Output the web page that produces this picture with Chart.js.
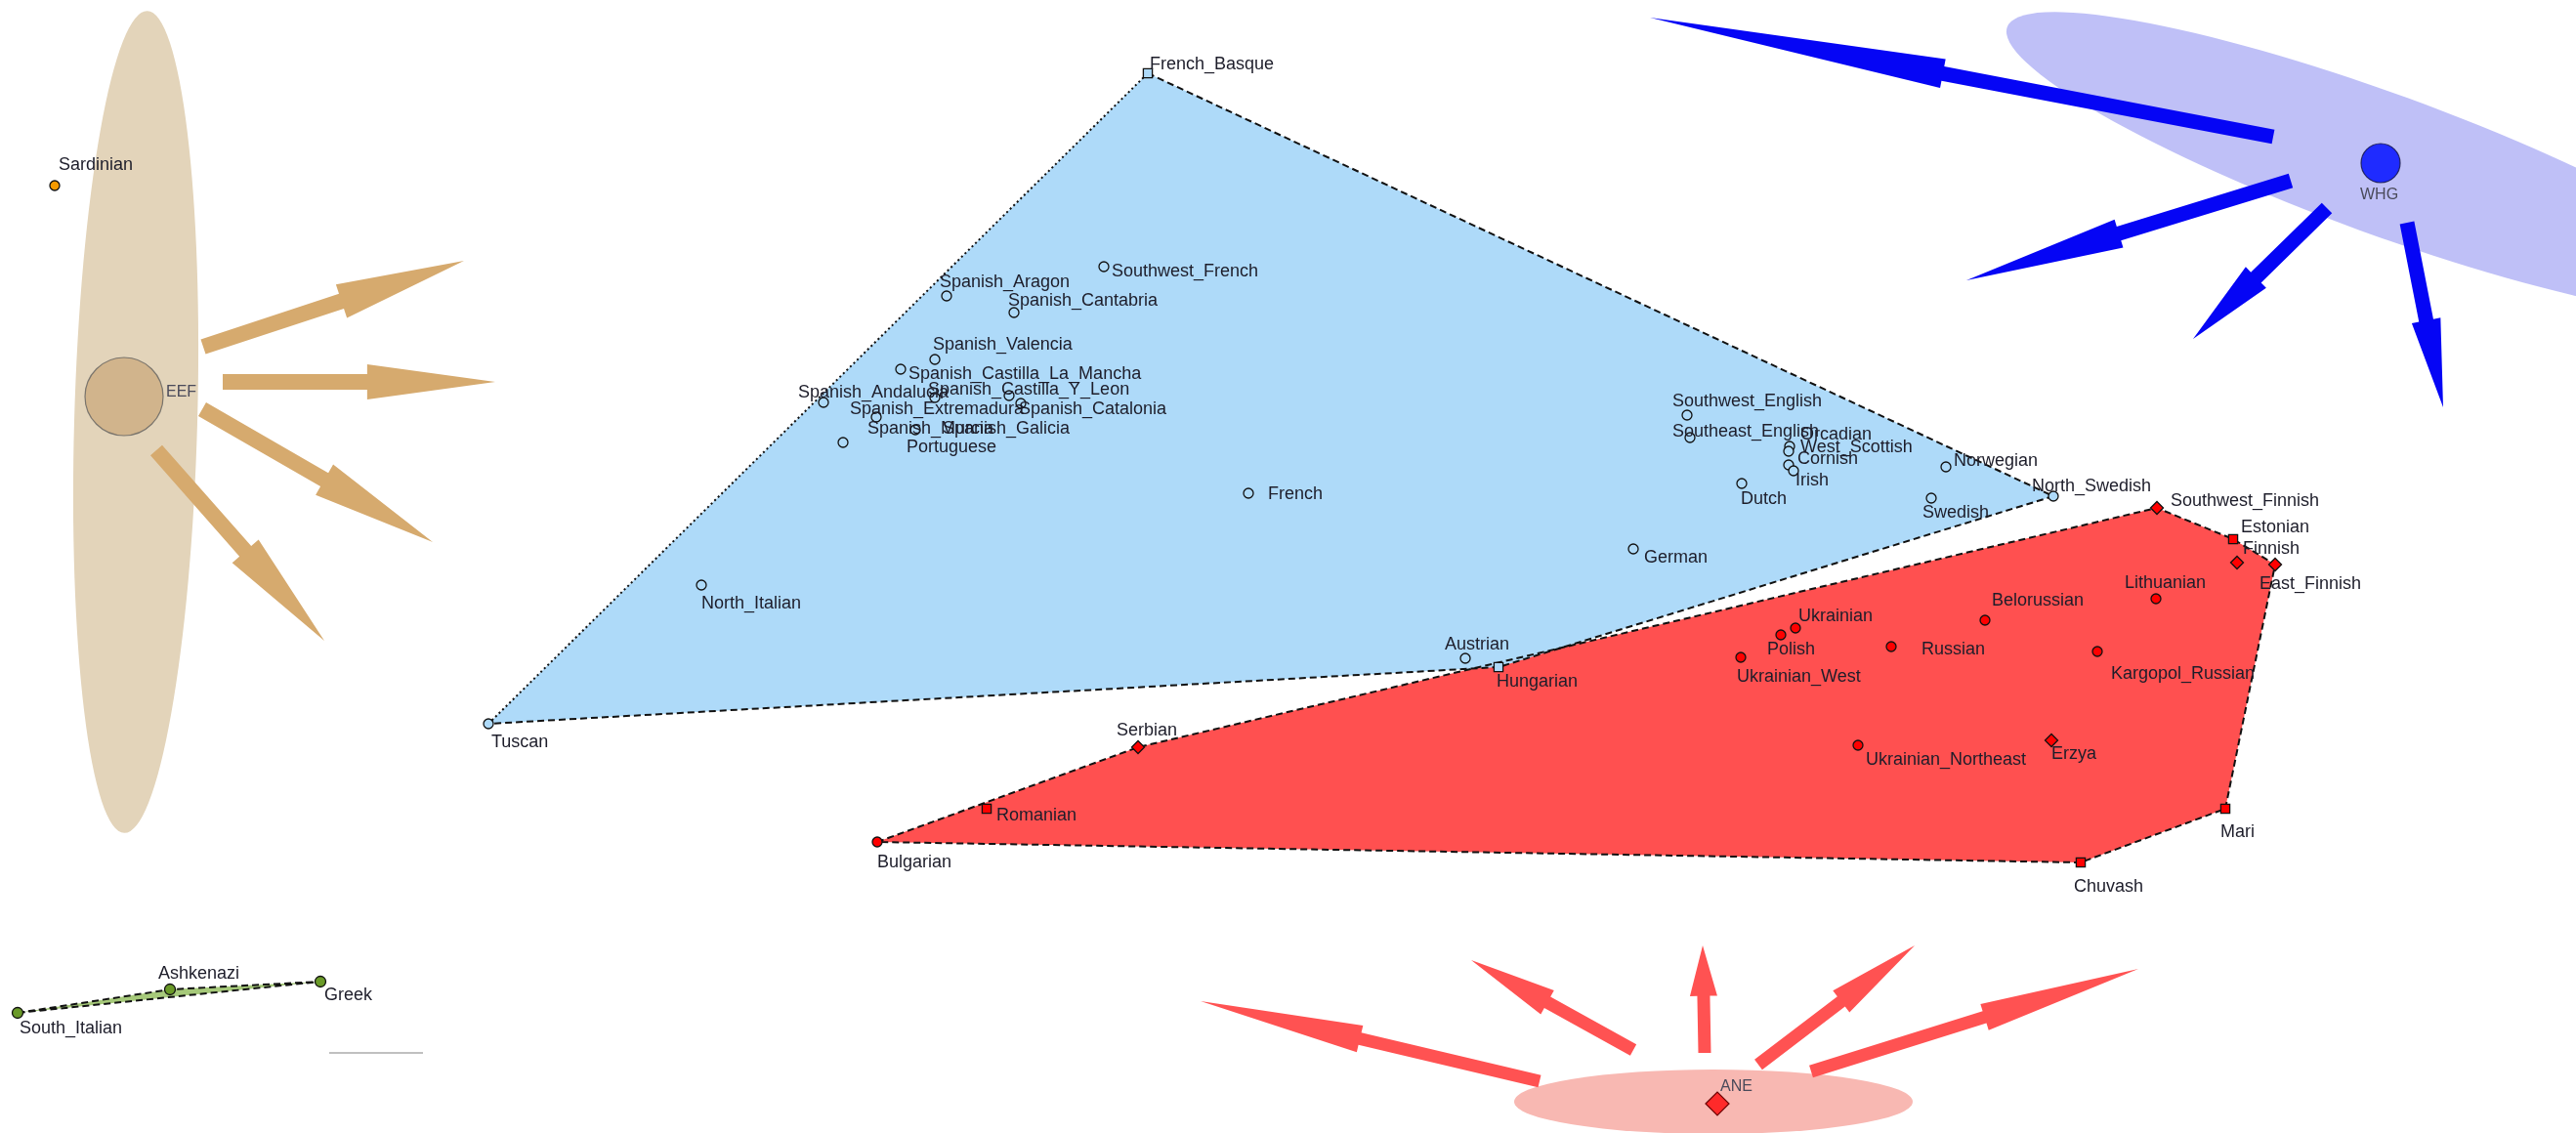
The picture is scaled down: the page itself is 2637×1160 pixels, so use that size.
<!DOCTYPE html>
<html>
<head>
<meta charset="utf-8">
<title>Ancestral components of European populations</title>
<script src="https://cdn.jsdelivr.net/npm/chart.js@4.4.1/dist/chart.umd.min.js"></script>
<style>
  html, body { margin: 0; padding: 0; background: #fff; overflow: hidden; }
  #wrap { width: 2637px; height: 1160px; }
</style>
</head>
<body>
<div id="wrap"><canvas id="pcaChart" width="2637" height="1160"></canvas></div>
<script>
// Projection coordinates (x to the right, y downwards)

// Western / Northern Europeans
const westNames = ['French_Basque', 'Southwest_French', 'Spanish_Aragon', 'Spanish_Cantabria', 'Spanish_Valencia',
  'Spanish_Castilla_La_Mancha', 'Spanish_Castilla_Y_Leon', 'Spanish_Andalucia', 'Spanish_Catalonia',
  'Spanish_Extremadura', 'Spanish_Murcia', 'Spanish_Galicia', 'Portuguese', 'North_Italian', 'French', 'Tuscan',
  'Southwest_English', 'Southeast_English', 'Orcadian', 'West_Scottish', 'Cornish', 'Irish', 'Dutch',
  'Norwegian', 'Swedish', 'North_Swedish', 'German', 'Austrian', 'Hungarian'];
const westX = [1175, 1130, 969, 1038, 957, 922, 957, 843, 1045, 863, 897, 1033, 937, 718, 1278, 500,
  1727, 1730, 1832, 1831, 1831, 1836, 1783, 1992, 1977, 2102, 1672, 1500, 1534];
const westY = [75, 273, 303, 320, 368, 378, 407, 412, 413, 453, 427, 405, 440, 599, 505, 741,
  425, 448, 457, 462, 476, 482, 495, 478, 510, 508, 562, 674, 683];

// Eastern Europeans and Uralic speakers
const eastNames = ['Bulgarian', 'Romanian', 'Serbian', 'Southwest_Finnish', 'Estonian', 'Finnish', 'East_Finnish',
  'Lithuanian', 'Belorussian', 'Ukrainian', 'Polish', 'Russian', 'Ukrainian_West', 'Kargopol_Russian',
  'Ukrainian_Northeast', 'Erzya', 'Mari', 'Chuvash'];
const eastX = [898, 1010, 1165, 2208, 2286, 2290, 2329, 2207, 2032, 1838, 1823, 1936, 1782, 2147, 1902, 2100, 2278, 2130];
const eastY = [862, 828, 765, 520, 552, 576, 578, 613, 635, 643, 650, 662, 673, 667, 763, 758, 828, 883];

// Southern Mediterranean group
const medNames = ['South_Italian', 'Ashkenazi', 'Greek'];
const medX = [18, 174, 328];
const medY = [1037, 1013, 1005];

const sardNames = ['Sardinian'];
const sardX = [56];
const sardY = [190];

// Ancestral sources: EEF, WHG, ANE
const sourceNames = ['EEF', 'WHG', 'ANE'];
const sourceX = [127, 2437, 1758];
const sourceY = [406, 167, 1130];

// Spread of each source (centre, semi-axes, tilt in degrees)
const eefCloud = { x: 139, y: 432, rx: 63, ry: 421, tilt: 1.6 };
const whgCloud = { x: 2440, y: 168, rx: 410, ry: 72, tilt: 20 };
const aneCloud = { x: 1754, y: 1128, rx: 204, ry: 33, tilt: 0 };

// Flow arrows: [tailX, tailY, tipX, tipY]
const eefArrows = [[208, 355, 475, 267], [228, 391, 507, 391], [207, 419, 443, 555], [160, 461, 332, 656]];
const whgArrows = [[2327, 140, 1689, 18], [2345, 185, 2013, 287], [2382, 213, 2245, 347], [2464, 228, 2501, 417]];
const aneArrows = [[1576, 1107, 1229, 1025], [1672, 1075, 1506, 983], [1745, 1078, 1743, 968],
  [1800, 1090, 1960, 968], [1854, 1097, 2189, 992]];

const scaleBarX = [337, 433];
const scaleBarY = [1078, 1078];

// label placement relative to each marker, in pixels
const labelOffsets = {
  French_Basque: [2, -9], Southwest_French: [8, 5], Spanish_Aragon: [-7, -14], Spanish_Cantabria: [-6, -12],
  Spanish_Valencia: [-2, -15], Spanish_Castilla_La_Mancha: [8, 5], Spanish_Castilla_Y_Leon: [-7, -8],
  Spanish_Andalucia: [-26, -10], Spanish_Catalonia: [-2, 6], Spanish_Extremadura: [7, -34],
  Spanish_Murcia: [-9, 12], Spanish_Galicia: [-68, 34], Portuguese: [-9, 18], North_Italian: [0, 19],
  French: [20, 1], Tuscan: [3, 19], Southwest_English: [-15, -14], Southeast_English: [-18, -6],
  Orcadian: [11, -12], West_Scottish: [12, -4], Cornish: [9, -6], Irish: [2, 10], Dutch: [-1, 16],
  Norwegian: [8, -6], Swedish: [-9, 15], North_Swedish: [-22, -10], German: [11, 9], Austrian: [-21, -14],
  Hungarian: [-2, 15],
  Bulgarian: [0, 21], Romanian: [10, 7], Serbian: [-22, -17], Southwest_Finnish: [14, -7], Estonian: [8, -12],
  Finnish: [6, -14], East_Finnish: [-16, 20], Lithuanian: [-32, -16], Belorussian: [7, -20], Ukrainian: [3, -12],
  Polish: [-14, 15], Russian: [31, 3], Ukrainian_West: [-4, 20], Kargopol_Russian: [14, 23],
  Ukrainian_Northeast: [8, 15], Erzya: [0, 14], Mari: [-5, 24], Chuvash: [-7, 25],
  South_Italian: [2, 16], Ashkenazi: [-12, -16], Greek: [4, 14], Sardinian: [4, -21],
  EEF: [43, -4], WHG: [-21, 33], ANE: [3, -17]
};
const squareMarks = ['French_Basque', 'Hungarian', 'Estonian', 'Romanian', 'Mari', 'Chuvash'];
const diamondMarks = ['Serbian', 'Southwest_Finnish', 'Finnish', 'East_Finnish', 'Erzya', 'ANE'];
const dottedEdges = [['Tuscan', 'French_Basque']];

function toPoints(xs, ys) {
  return xs.map((x, i) => ({ x: x, y: ys[i] }));
}

// monotone chain convex hull, returns indices in drawing order
function hullOrder(xs, ys) {
  const idx = xs.map((_, i) => i).sort((a, b) => xs[a] - xs[b] || ys[a] - ys[b]);
  const cross = (o, a, b) => (xs[a] - xs[o]) * (ys[b] - ys[o]) - (ys[a] - ys[o]) * (xs[b] - xs[o]);
  const lower = [], upper = [];
  for (const i of idx) {
    while (lower.length >= 2 && cross(lower[lower.length - 2], lower[lower.length - 1], i) <= 0) lower.pop();
    lower.push(i);
  }
  for (const i of idx.slice().reverse()) {
    while (upper.length >= 2 && cross(upper[upper.length - 2], upper[upper.length - 1], i) <= 0) upper.pop();
    upper.push(i);
  }
  lower.pop();
  upper.pop();
  const ring = lower.concat(upper);
  ring.push(ring[0]);
  return ring;
}

function hullDatasets(names, xs, ys, fillColor) {
  const ring = hullOrder(xs, ys);
  const pts = ring.map(i => ({ x: xs[i], y: ys[i] }));
  const ringNames = ring.map(i => names[i]);
  const isDotted = (a, b) => dottedEdges.some(e => (e[0] === a && e[1] === b) || (e[0] === b && e[1] === a));
  return [
    {
      data: pts, showLine: true, fill: 'shape', backgroundColor: fillColor,
      borderWidth: 0, pointRadius: 0, order: 10
    },
    {
      data: pts, showLine: true, fill: false, borderColor: '#111', borderWidth: 2,
      borderDash: [7, 4], pointRadius: 0, order: 9,
      segment: {
        borderDash: c => isDotted(ringNames[c.p0DataIndex], ringNames[c.p1DataIndex]) ? [2, 3] : undefined
      }
    }
  ];
}

function markStyle(c) {
  const name = c.dataset.labelNames[c.dataIndex];
  if (squareMarks.includes(name)) return 'rect';
  if (diamondMarks.includes(name)) return 'rectRot';
  return 'circle';
}

// squares and diamonds need a larger radius to look the same size as circles
function markRadius(c) {
  return markStyle(c) === 'circle' ? 5 : 6.5;
}

// source clouds and arrows, drawn beneath everything else
function drawCloud(chart, c, color) {
  const { ctx, scales: { x, y } } = chart;
  const px = x.getPixelForValue(c.x), py = y.getPixelForValue(c.y);
  const rx = Math.abs(x.getPixelForValue(c.x + c.rx) - px);
  const ry = Math.abs(y.getPixelForValue(c.y + c.ry) - py);
  ctx.beginPath();
  ctx.ellipse(px, py, rx, ry, c.tilt * Math.PI / 180, 0, Math.PI * 2);
  ctx.fillStyle = color;
  ctx.fill();
}

function drawArrows(chart, arrows, color, shaft, head) {
  const { ctx, scales: { x, y } } = chart;
  ctx.fillStyle = color;
  arrows.forEach(a => {
    const x0 = x.getPixelForValue(a[0]), y0 = y.getPixelForValue(a[1]);
    const x1 = x.getPixelForValue(a[2]), y1 = y.getPixelForValue(a[3]);
    const dx = x1 - x0, dy = y1 - y0;
    const len = Math.hypot(dx, dy);
    const nx = -dy / len, ny = dx / len;
    const bx = x0 + dx * 0.53, by = y0 + dy * 0.53;
    ctx.beginPath();
    ctx.moveTo(x0 + nx * shaft, y0 + ny * shaft);
    ctx.lineTo(bx + nx * shaft, by + ny * shaft);
    ctx.lineTo(bx + nx * head, by + ny * head);
    ctx.lineTo(x1, y1);
    ctx.lineTo(bx - nx * head, by - ny * head);
    ctx.lineTo(bx - nx * shaft, by - ny * shaft);
    ctx.lineTo(x0 - nx * shaft, y0 - ny * shaft);
    ctx.closePath();
    ctx.fill();
  });
}

const sourcePlugin = {
  id: 'sourceClouds',
  beforeDatasetsDraw(chart) {
    const ctx = chart.ctx;
    ctx.save();
    drawCloud(chart, eefCloud, '#e3d4ba');
    drawCloud(chart, whgCloud, '#bfc0f7');
    drawCloud(chart, aneCloud, '#f8b8b2');
    drawArrows(chart, eefArrows, '#d6aa6e', 8, 18);
    drawArrows(chart, whgArrows, '#0505f5', 7.5, 15);
    drawArrows(chart, aneArrows, '#ff5252', 6.5, 14);
    ctx.restore();
  }
};

const labelPlugin = {
  id: 'popLabels',
  afterDatasetsDraw(chart) {
    const ctx = chart.ctx;
    ctx.save();
    ctx.textBaseline = 'middle';
    ctx.textAlign = 'left';
    chart.data.datasets.forEach((ds, i) => {
      if (!ds.labelNames) return;
      const meta = chart.getDatasetMeta(i);
      ctx.font = (ds.labelSize || 18) + 'px "Liberation Sans", Arial, sans-serif';
      ctx.fillStyle = ds.labelColor || '#1d1d2a';
      meta.data.forEach((pt, j) => {
        const name = ds.labelNames[j];
        const off = labelOffsets[name] || [6, -12];
        ctx.fillText(name, pt.x + off[0], pt.y + off[1]);
      });
    });
    ctx.restore();
  }
};

const datasets = [
  ...hullDatasets(westNames, westX, westY, '#aedaf9'),
  ...hullDatasets(eastNames, eastX, eastY, '#ff5050'),
  ...hullDatasets(medNames, medX, medY, '#a6c97a'),
  {
    data: toPoints(scaleBarX, scaleBarY), showLine: true, borderColor: 'rgba(140,140,140,0.55)',
    borderWidth: 2, pointRadius: 0, order: 8
  },
  {
    data: toPoints(westX, westY), labelNames: westNames, pointStyle: markStyle, pointRadius: markRadius,
    backgroundColor: '#aedaf9', borderColor: '#111', borderWidth: 1.3, order: 5
  },
  {
    data: toPoints(eastX, eastY), labelNames: eastNames, pointStyle: markStyle, pointRadius: markRadius,
    backgroundColor: '#ff0000', borderColor: '#111', borderWidth: 1.3, order: 5
  },
  {
    data: toPoints(medX, medY), labelNames: medNames, pointStyle: 'circle',
    pointRadius: 5.5, backgroundColor: '#6a9a28', borderColor: '#111', borderWidth: 1.3, order: 5
  },
  {
    data: toPoints(sardX, sardY), labelNames: sardNames, pointStyle: 'circle',
    pointRadius: 5, backgroundColor: '#f59a00', borderColor: '#111', borderWidth: 1.3, order: 5
  },
  {
    data: toPoints(sourceX, sourceY), labelNames: sourceNames, labelSize: 16, labelColor: '#4a4a5a',
    pointStyle: markStyle,
    pointRadius: [40, 20, 12],
    backgroundColor: ['#d1b48c', '#1f2bff', '#ff2a2a'],
    borderColor: ['rgba(90,90,90,0.75)', 'rgba(20,20,60,0.8)', '#6b0000'],
    borderWidth: 1.2, order: 4
  }
];

const ctx = document.getElementById('pcaChart').getContext('2d');
const pcaChart = new Chart(ctx, {
  type: 'scatter',
  data: { datasets: datasets },
  options: {
    responsive: false,
    animation: false,
    layout: { padding: 0, autoPadding: false },
    elements: { line: { tension: 0 } },
    scales: {
      x: { type: 'linear', min: 0, max: 2637, display: false },
      y: { type: 'linear', min: 0, max: 1160, reverse: true, display: false }
    },
    plugins: {
      legend: { display: false },
      tooltip: { enabled: false }
    }
  },
  plugins: [sourcePlugin, labelPlugin]
});
</script>
</body>
</html>
